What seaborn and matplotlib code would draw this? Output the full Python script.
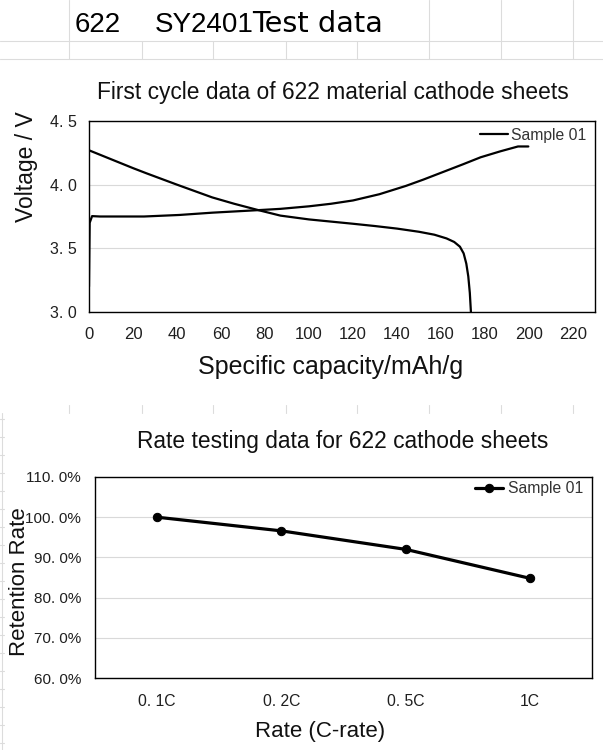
import numpy as np
import pandas as pd
import matplotlib
matplotlib.use("Agg")
import matplotlib.pyplot as plt
import seaborn as sns
from matplotlib.lines import Line2D

# first cycle curves of sample 01
charge_cap = [0, 0.3, 1.4, 5, 11, 25, 41, 56, 77, 87, 100, 110, 120, 132,
              144, 152, 161, 170, 178, 187, 195, 199.7]
charge_v = [3.20, 3.70, 3.753, 3.75, 3.75, 3.75, 3.762, 3.78, 3.80, 3.81,
            3.83, 3.85, 3.876, 3.925, 3.99, 4.04, 4.10, 4.16, 4.215, 4.262,
            4.30, 4.30]
discharge_cap = [0, 10, 20, 26, 40, 56, 66, 77, 87, 100, 110, 120, 130, 140,
                 150, 157, 162.5, 166, 168.6, 170.3, 171.5, 172.4, 173.1,
                 173.6]
discharge_v = [4.27, 4.20, 4.13, 4.09, 4.0, 3.90, 3.85, 3.80, 3.757, 3.727,
               3.71, 3.693, 3.675, 3.655, 3.63, 3.607, 3.578, 3.55, 3.513,
               3.46, 3.38, 3.28, 3.15, 3.0]
cap_ticks = [0, 20, 40, 60, 80, 100, 120, 140, 160, 180, 200, 220]
volt_ticks = [3.0, 3.5, 4.0, 4.5]
volt_labels = ["3. 0", "3. 5", "4. 0", "4. 5"]

# rate test
rates = ["0. 1C", "0. 2C", "0. 5C", "1C"]
retention = [100.0, 96.6, 92.0, 84.8]
ret_ticks = [60, 70, 80, 90, 100, 110]
ret_labels = ["60. 0%", "70. 0%", "80. 0%", "90. 0%", "100. 0%", "110. 0%"]

sns.set_theme(style="white")
plt.rcParams['font.family'] = ['Liberation Sans', 'DejaVu Sans']
W, H = 603, 750
fig = plt.figure(figsize=(W / 100, H / 100), dpi=100)

# spreadsheet cells behind the charts
grid_c = "#dcdcdc"
for yy in [41, 59]:
    fig.add_artist(Line2D([0, 1], [1 - yy / H] * 2, color=grid_c, lw=0.8))
for xx in [69, 429, 501, 573]:
    fig.add_artist(Line2D([xx / W] * 2, [1, 1 - 59 / H], color=grid_c, lw=0.8))
for xx in [142, 213, 286, 357]:
    fig.add_artist(Line2D([xx / W] * 2, [1 - 41 / H, 1 - 59 / H], color=grid_c, lw=0.8))
for xx in [69, 142, 213, 286, 357, 429, 501, 573]:
    fig.add_artist(Line2D([xx / W] * 2, [1 - 405 / H, 1 - 413 / H], color=grid_c, lw=0.8))
fig.add_artist(Line2D([2 / W] * 2, [1 - 413 / H, 0], color=grid_c, lw=0.8))
for yy in range(419, 750, 18):
    fig.add_artist(Line2D([0, 4 / W], [1 - yy / H] * 2, color=grid_c, lw=0.8))

fig.text(75 / W, 1 - 32 / H, "622", fontsize=20, color="black")
fig.text(155 / W, 1 - 32 / H, "SY2401", fontsize=20, color="black")
fig.text(252 / W, 1 - 32 / H, "Test data", fontsize=20.7, color="black",
         family="DejaVu Sans")

tick_c = "#1f1f1f"

# ---- top chart
ax1 = fig.add_axes([89 / W, 1 - 312 / H, (595 - 89) / W, 191 / H])
df_c = pd.DataFrame({"cap": charge_cap, "V": charge_v})
df_d = pd.DataFrame({"cap": discharge_cap, "V": discharge_v})
sns.lineplot(data=df_c, x="cap", y="V", ax=ax1, color="black", lw=1.6,
             sort=False, label="Sample 01")
sns.lineplot(data=df_d, x="cap", y="V", ax=ax1, color="black", lw=1.6,
             sort=False)
ax1.set_xlim(0, 230)
ax1.set_ylim(3.0, 4.5)
ax1.set_xticks(cap_ticks)
ax1.set_yticks(volt_ticks)
ax1.set_yticklabels(volt_labels)
ax1.yaxis.grid(True, color="#d9d9d9", lw=0.8)
ax1.tick_params(axis="x", length=0, pad=10.5, labelsize=12, labelcolor=tick_c)
ax1.tick_params(axis="y", length=0, pad=8.5, labelsize=11.5, labelcolor=tick_c)
ax1.set_xlabel("Specific capacity/mAh/g", fontsize=18, color="#111")
ax1.set_ylabel("Voltage / V", fontsize=16.5, color="#111")
ax1.xaxis.set_label_coords((331 - 89) / 506, -(355 - 312) / 191)
ax1.yaxis.set_label_coords(-(89 - 38) / 506, 0.5 + (216.5 - 167) / 191)
ax1.text((333 - 89) / 506, (312 - 99) / 191,
         "First cycle data of 622 material cathode sheets",
         transform=ax1.transAxes, ha="center", va="baseline",
         fontsize=16.4, color="#111")
ax1.legend(loc="upper right", bbox_to_anchor=(0.983, 0.965), frameon=False,
           fontsize=11.3, handlelength=1.8, handletextpad=0.2, borderpad=0,
           borderaxespad=0, labelcolor="#333")

# ---- bottom chart
ax2 = fig.add_axes([95 / W, 1 - 678 / H, (592 - 95) / W, 201 / H])
df_r = pd.DataFrame({"rate": rates, "ret": retention})
sns.lineplot(data=df_r, x="rate", y="ret", ax=ax2, color="black", lw=2.3,
             marker="o", markersize=6, markeredgecolor="black", sort=False,
             label="Sample 01")
ax2.set_xlim(-0.5, 3.5)
ax2.set_ylim(60, 110)
ax2.set_yticks(ret_ticks)
ax2.set_yticklabels(ret_labels)
ax2.yaxis.grid(True, color="#d9d9d9", lw=0.8)
ax2.tick_params(axis="x", length=0, pad=11.5, labelsize=11.3, labelcolor=tick_c)
ax2.tick_params(axis="y", length=0, pad=10, labelsize=11, labelcolor=tick_c)
ax2.set_xlabel("Rate (C-rate)", fontsize=16, color="#111")
ax2.set_ylabel("Retention Rate", fontsize=16, color="#111")
ax2.xaxis.set_label_coords((320 - 95) / 497, -(721 - 678) / 201)
ax2.yaxis.set_label_coords(-(95 - 30) / 497, 0.5 + (577.5 - 582) / 201)
ax2.text((343 - 95) / 497, (678 - 448) / 201,
         "Rate testing data for 622 cathode sheets",
         transform=ax2.transAxes, ha="center", va="baseline",
         fontsize=16.4, color="#111")
ax2.legend(loc="upper right", bbox_to_anchor=(0.982, 0.98), frameon=False,
           fontsize=11.3, handlelength=1.8, handletextpad=0.3, borderpad=0,
           borderaxespad=0, labelcolor="#333")

for ax in (ax1, ax2):
    for s in ax.spines.values():
        s.set_visible(True)
        s.set_color("black")
        s.set_linewidth(1.0)

fig.savefig("out.png", dpi=100)
